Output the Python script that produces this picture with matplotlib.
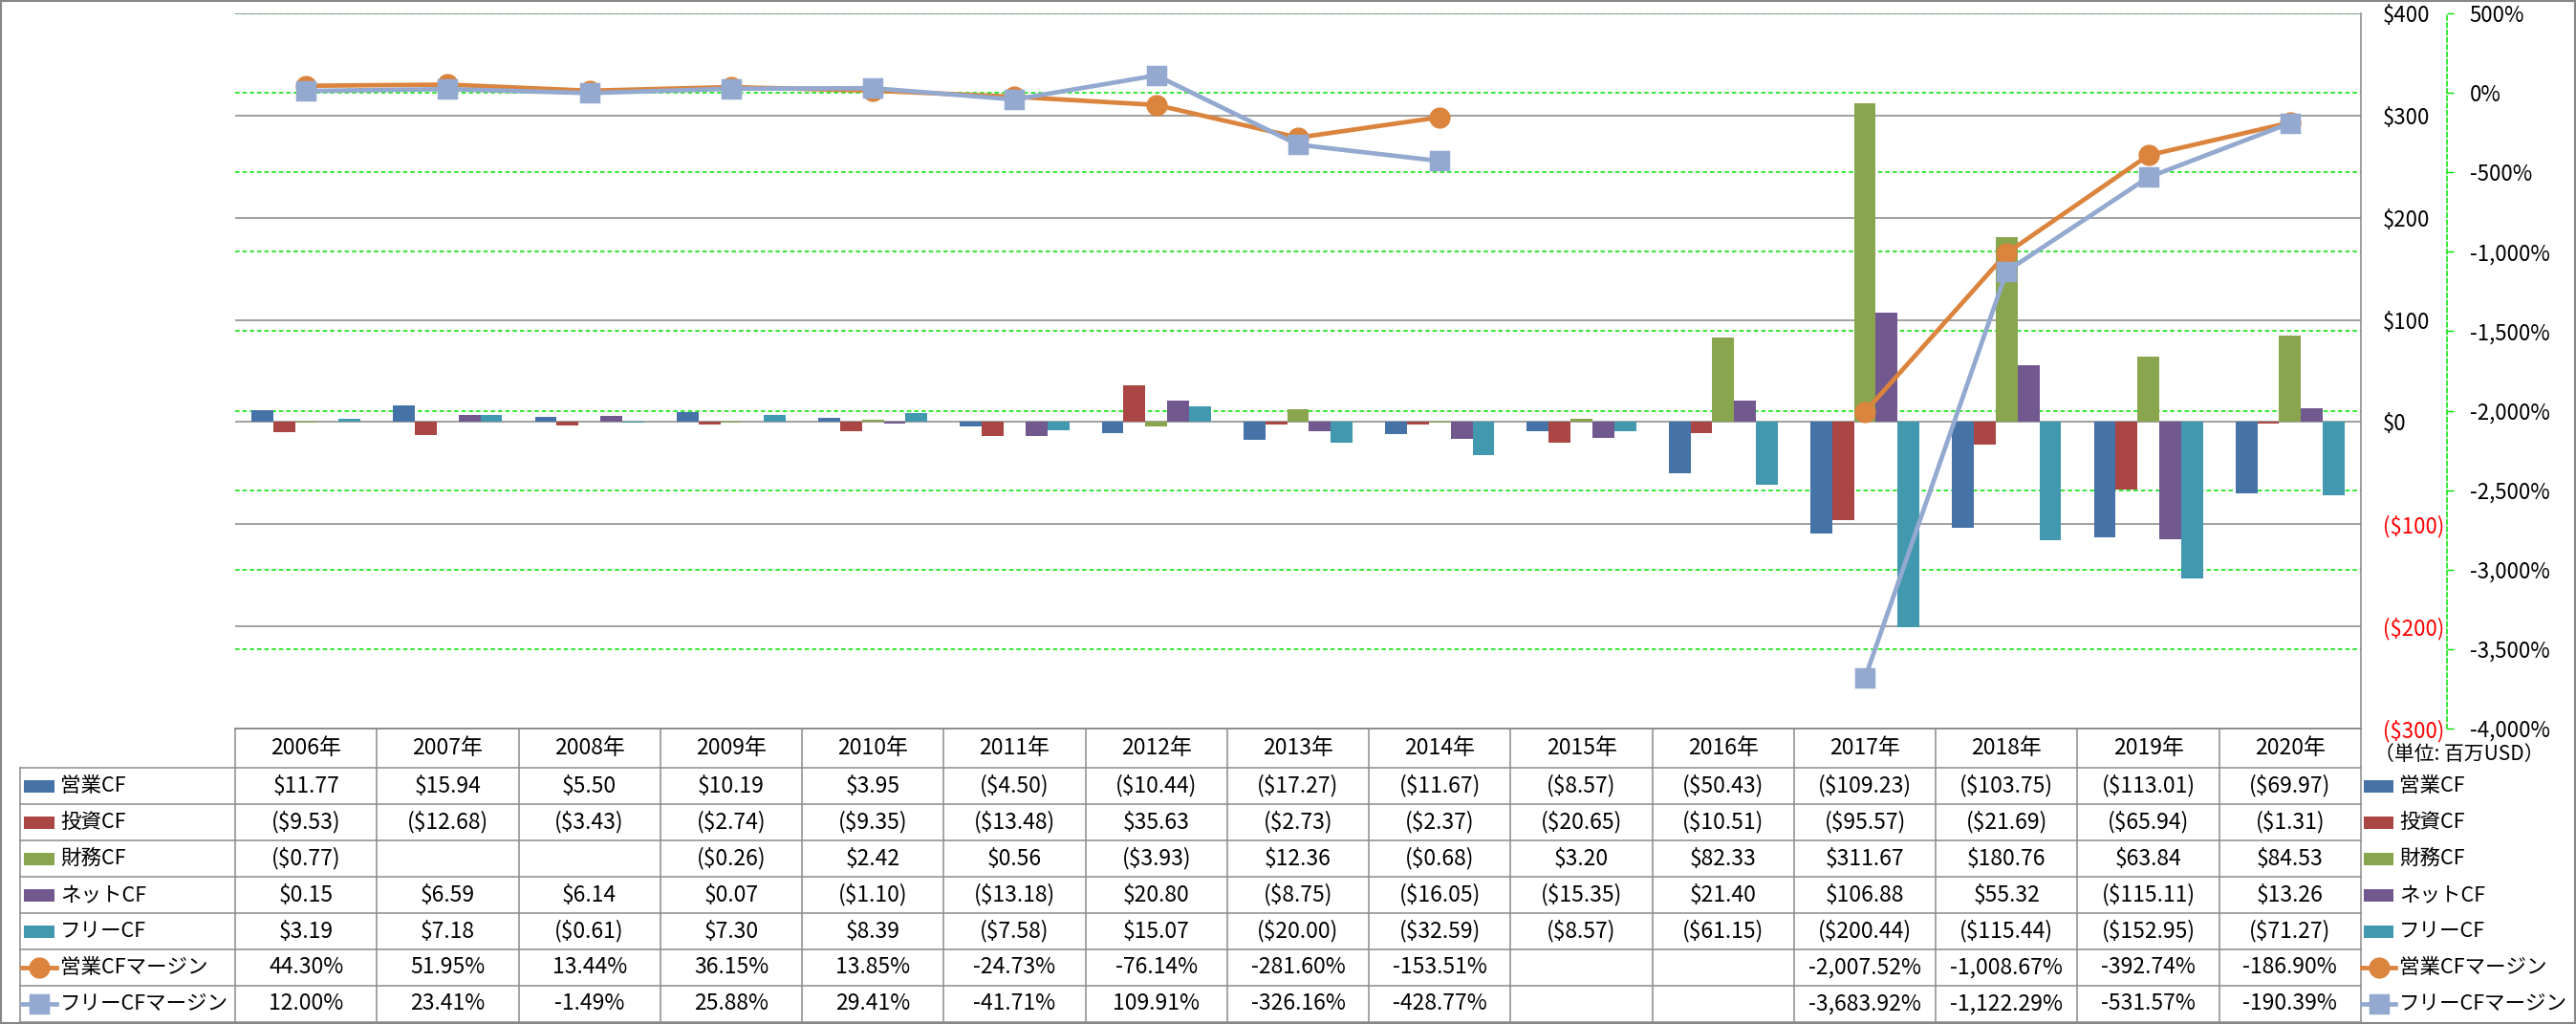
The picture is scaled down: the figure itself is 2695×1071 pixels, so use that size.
import numpy as np
import matplotlib
matplotlib.use('Agg')
import matplotlib.pyplot as plt
from matplotlib.patches import Rectangle

plt.rcParams['font.family'] = ['Noto Sans CJK JP', 'DejaVu Sans']

# ---------------- data ----------------
years = ['2006年', '2007年', '2008年', '2009年', '2010年', '2011年', '2012年', '2013年',
         '2014年', '2015年', '2016年', '2017年', '2018年', '2019年', '2020年']

bar_names = ['営業CF', '投資CF', '財務CF', 'ネットCF', 'フリーCF']
line_names = ['営業CFマージン', 'フリーCFマージン']

op_cf = [11.77, 15.94, 5.50, 10.19, 3.95, -4.50, -10.44, -17.27, -11.67, -8.57, -50.43,
         -109.23, -103.75, -113.01, -69.97]
inv_cf = [-9.53, -12.68, -3.43, -2.74, -9.35, -13.48, 35.63, -2.73, -2.37, -20.65, -10.51,
          -95.57, -21.69, -65.94, -1.31]
fin_cf = [-0.77, None, None, -0.26, 2.42, 0.56, -3.93, 12.36, -0.68, 3.20, 82.33,
          311.67, 180.76, 63.84, 84.53]
net_cf = [0.15, 6.59, 6.14, 0.07, -1.10, -13.18, 20.80, -8.75, -16.05, -15.35, 21.40,
          106.88, 55.32, -115.11, 13.26]
free_cf = [3.19, 7.18, -0.61, 7.30, 8.39, -7.58, 15.07, -20.00, -32.59, -8.57, -61.15,
           -200.44, -115.44, -152.95, -71.27]
op_margin = [44.30, 51.95, 13.44, 36.15, 13.85, -24.73, -76.14, -281.60, -153.51, None, None,
             -2007.52, -1008.67, -392.74, -186.90]
free_margin = [12.00, 23.41, -1.49, 25.88, 29.41, -41.71, 109.91, -326.16, -428.77, None, None,
               -3683.92, -1122.29, -531.57, -190.39]

usd_ticks = [-300, -200, -100, 0, 100, 200, 300, 400]
pct_ticks = [-4000, -3500, -3000, -2500, -2000, -1500, -1000, -500, 0, 500]
unit_label = '（単位: 百万USD）'

bar_colors = ['#4572A7', '#AA4643', '#89A54E', '#71588F', '#4198AF']
line_colors = ['#DB843D', '#93A9CF']
line_markers = ['o', 's']

GRID_GRAY = '#868686'
GREEN = '#00E000'
RED = '#FF0000'
FS_AX = 16
FS_TBL = 16.5
FS_LBL = 15.5


def arr(v):
    return np.array([np.nan if a is None else a for a in v], dtype=float)


def fmt_money(v):
    if v is None:
        return ''
    return f'${v:,.2f}' if v >= 0 else f'(${-v:,.2f})'


def fmt_pct(v):
    if v is None:
        return ''
    return f'{v:,.2f}%'


# ---------------- layout ----------------
W, H = 2695, 1071
fig = plt.figure(figsize=(W / 100, H / 100), dpi=100)
fig.patch.set_facecolor('white')

PL, PR, PT, PB = 246, 2470, 14, 762
ax = fig.add_axes([PL / W, 1 - PB / H, (PR - PL) / W, (PB - PT) / H])
axp = ax.twinx()
ax.set_zorder(2)
axp.set_zorder(1)
ax.patch.set_visible(False)

n = len(years)
x = np.arange(n)
bw = 0.154
series = [op_cf, inv_cf, fin_cf, net_cf, free_cf]
for k, (vals, c) in enumerate(zip(series, bar_colors)):
    ax.bar(x + (k - 2) * bw, arr(vals), width=bw, color=c, zorder=3, linewidth=0)

margins = [op_margin, free_margin]
for vals, c, m in zip(margins, line_colors, line_markers):
    ax.plot(x, arr(vals), transform=axp.transData, color=c, lw=3.4, marker=m,
            ms=15 if m == 'o' else 13, mfc=c, mec=c, mew=2.5 if m == 's' else 1,
            solid_joinstyle='round', zorder=5)

ax.set_xlim(-0.5, n - 0.5)
ax.set_ylim(usd_ticks[0], usd_ticks[-1])
axp.set_ylim(pct_ticks[0], pct_ticks[-1])

# $ axis (right, inner)
ax.yaxis.set_ticks_position('right')
ax.set_yticks(usd_ticks, labels=[f'${v}' if v >= 0 else f'(${-v})' for v in usd_ticks])
for t, v in zip(ax.get_yticklabels(), usd_ticks):
    t.set_color('black' if v >= 0 else RED)
ax.tick_params(axis='y', length=0, pad=16.5, labelsize=FS_AX)
ax.set_xticks([])
ax.tick_params(axis='x', length=0)
ax.yaxis.grid(True, color=GRID_GRAY, lw=1.1, zorder=0)
ax.set_axisbelow(True)
for s in ['left', 'top']:
    ax.spines[s].set_visible(False)
for s in ['right', 'bottom']:
    ax.spines[s].set_color(GRID_GRAY)
    ax.spines[s].set_linewidth(1.1)

# % axis (right, outer)
axp.set_yticks(pct_ticks, labels=[f'{v:,.0f}%' for v in pct_ticks])
for t, v in zip(axp.get_yticklabels(), pct_ticks):
    t.set_color('black' if v >= 0 else RED)
axp.tick_params(axis='y', direction='out', length=5, width=1, color=GREEN, pad=12,
                labelsize=FS_AX)
axp.yaxis.grid(True, color=GREEN, lw=1.1, ls=(0, (3, 2)))
for s in ['left', 'top', 'bottom']:
    axp.spines[s].set_visible(False)
axp.spines['right'].set_position(('outward', 90 * 0.72))
axp.spines['right'].set_color(GREEN)
axp.spines['right'].set_linestyle((0, (3, 2)))
axp.spines['right'].set_linewidth(1.1)

# ---------------- data table (pixel overlay) ----------------
ov = fig.add_axes([0, 0, 1, 1])
ov.set_xlim(0, W)
ov.set_ylim(H, 0)
ov.axis('off')
ov.set_zorder(6)

TBL_GRAY = '#8C8C8C'
col_edges = [ax.transData.transform((i - 0.5, 0))[0] for i in range(n + 1)]
col_centers = [ax.transData.transform((i, 0))[0] for i in range(n)]
row_top = PB
hdr_h = 41
row_h = 38
row_edges = [row_top + hdr_h + r * row_h for r in range(8)]
LBL_L = 21

# horizontal lines
ov.plot([col_edges[0], col_edges[-1]], [row_top, row_top], color=TBL_GRAY, lw=1.1)
for ry in row_edges:
    ov.plot([LBL_L, col_edges[-1]], [ry, ry], color=TBL_GRAY, lw=1.1)
# vertical lines
ov.plot([LBL_L, LBL_L], [row_edges[0], row_edges[-1]], color=TBL_GRAY, lw=1.1)
for cx in col_edges:
    ov.plot([cx, cx], [row_top, row_edges[-1]], color=TBL_GRAY, lw=1.1)

# header
for cx, y in zip(col_centers, years):
    ov.text(cx, row_top + hdr_h / 2, y, ha='center', va='center', fontsize=FS_TBL)

all_rows = [(bar_names[i], series[i], fmt_money) for i in range(5)] + \
           [(line_names[j], margins[j], fmt_pct) for j in range(2)]
for r, (name, vals, f) in enumerate(all_rows):
    cy = (row_edges[r] + row_edges[r + 1]) / 2
    for cx, v in zip(col_centers, vals):
        ov.text(cx, cy, f(v), ha='center', va='center', fontsize=FS_TBL)


def draw_key(xl, xr, cy, r):
    if r < 5:
        ov.add_patch(Rectangle((xl + 2, cy - 6.5), xr - xl - 4, 13, color=bar_colors[r], lw=0))
    else:
        j = r - 5
        ov.plot([xl, xr], [cy, cy], color=line_colors[j], lw=3.4)
        ov.plot([(xl + xr) / 2], [cy], marker=line_markers[j], color=line_colors[j],
                ms=15 if j == 0 else 13, mew=2.5 if j == 1 else 1,
                solid_joinstyle='round')


for r, (name, vals, f) in enumerate(all_rows):
    cy = (row_edges[r] + row_edges[r + 1]) / 2
    # left label column
    draw_key(23, 59, cy, r)
    ov.text(63, cy, name, ha='left', va='center', fontsize=FS_LBL)
    # right legend
    draw_key(2471, 2506, cy, r)
    ov.text(2510, cy, name, ha='left', va='center', fontsize=FS_LBL)

ov.text(2484, 789, unit_label, ha='left', va='center', fontsize=15)

# outer border
ov.add_patch(Rectangle((1, 1), W - 2, H - 2, fill=False, ec=GRID_GRAY, lw=1.5))

fig.savefig('out.png', dpi=100, facecolor='white')
